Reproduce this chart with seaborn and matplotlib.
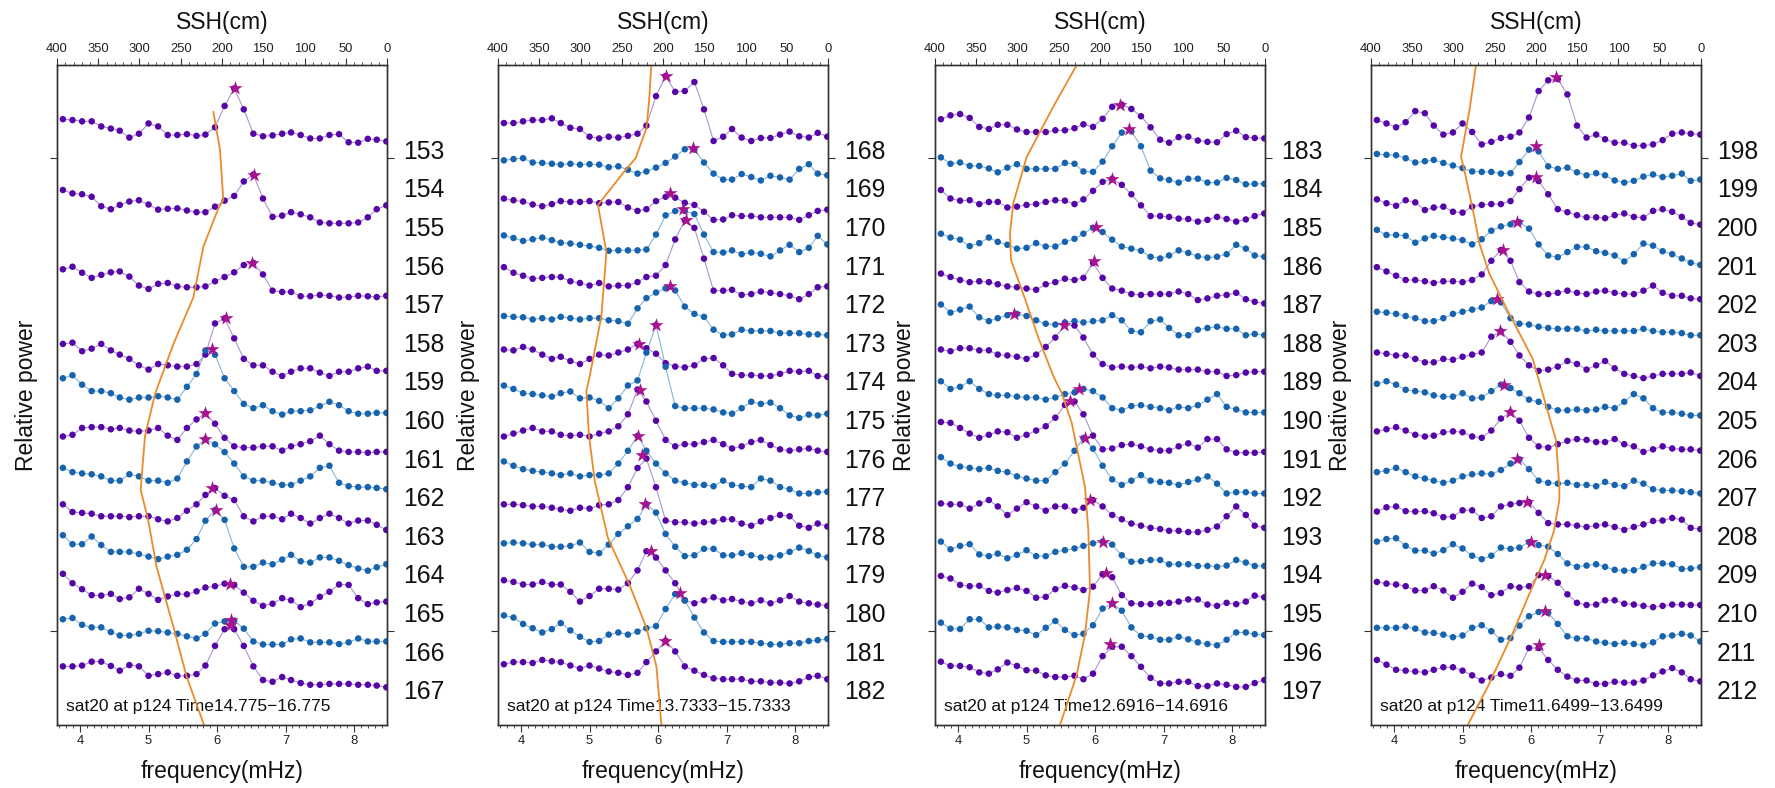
import numpy as np
import pandas as pd
import matplotlib
matplotlib.use("Agg")
import matplotlib.pyplot as plt
import seaborn as sns
from matplotlib.ticker import MultipleLocator, NullLocator
from matplotlib.transforms import blended_transform_factory

sns.set_theme(style="ticks")
plt.rcParams['font.family'] = ['Liberation Sans', 'DejaVu Sans']

# ---------------- data ----------------
freq_mhz = [3.75, 3.89, 4.03, 4.17, 4.31, 4.45, 4.58, 4.72, 4.86, 5.00, 5.14, 5.28,
            5.42, 5.56, 5.70, 5.83, 5.97, 6.11, 6.25, 6.39, 6.53, 6.67, 6.81, 6.95,
            7.08, 7.22, 7.36, 7.50, 7.64, 7.78, 7.92, 8.06, 8.20, 8.33, 8.47]

# panel 1 (rows 153-167; 154, 156, 158 missing)
pw_153 = [71,69,66,66,54,49,44,28,37,61,54,34,34,36,32,35,52,102,143,94,37,31,33,37,40,34,26,26,34,36,17,16,25,23,19]
pw_155 = [86,78,76,70,48,41,51,59,62,52,40,42,43,38,34,34,47,61,72,106,122,66,23,26,34,29,22,10,8,8,8,10,22,41,50]
pw_157 = [81,87,73,61,68,74,76,64,43,35,47,49,41,39,39,41,53,63,74,91,96,69,31,28,28,18,18,21,19,15,16,19,18,16,19]
pw_159 = [87,90,70,76,87,72,62,52,37,27,40,37,34,34,40,62,135,147,100,52,37,37,22,12,22,30,30,20,12,22,22,30,34,24,24]
pw_160 = [97,104,82,67,67,62,52,47,52,52,55,52,47,77,107,162,152,97,67,37,27,34,20,12,20,20,22,32,42,34,20,14,14,16,16]
pw_161 = [51,55,71,73,73,68,71,65,63,65,71,53,43,71,91,105,81,48,28,25,25,28,28,18,28,33,40,53,33,18,15,15,13,15,15]
pw_162 = [68,58,55,53,48,38,38,53,48,38,38,33,43,83,118,135,123,105,78,48,38,38,33,28,28,38,48,68,73,33,25,23,23,21,18]
pw_163 = [73,55,53,51,45,45,45,43,45,45,38,33,41,58,73,95,111,93,83,45,33,45,45,38,51,41,28,41,51,41,28,35,35,25,13]
pw_164 = [91,70,70,88,68,52,52,52,47,41,35,41,45,57,82,125,150,127,60,17,17,27,23,34,45,30,27,39,39,31,21,13,8,16,23]
pw_165 = [91,69,55,41,40,44,32,36,56,44,30,38,44,43,50,59,62,68,65,47,28,16,21,34,29,13,22,37,49,66,65,34,20,24,26]
pw_166 = [75,78,62,56,56,45,37,37,41,48,47,44,41,35,30,41,65,70,72,53,23,16,16,16,28,30,21,21,21,17,21,30,23,23,23]
pw_167 = [55,55,57,66,66,56,45,58,55,33,37,41,33,33,37,57,103,142,142,103,55,23,19,30,23,16,12,12,14,14,14,12,12,10,6]
p1_labels = [153, 155, 157, 159, 160, 161, 162, 163, 164, 165, 166, 167]
p1_star_freq = [6.26, 6.54, 6.51, 6.13, 5.92, 5.82, 5.82, 5.93, 5.98, 6.19, 6.20, 6.19]
p1_star_power = [143, 122, 96, 147, 165, 105, 135, 111, 150, 68, 74, 152]
p1_ssh_row = [-0.98, 0.01, 1.31, 1.52, 2.52, 3.83, 5.04, 6.32, 7.42, 8.81, 9.6, 10.81, 11.28, 12.36, 13.66, 14.91]
p1_ssh_cm = [210.5, 202.4, 198.4, 204.4, 222.6, 234.7, 258.9, 281, 293.3, 298.6, 289.5, 279.3, 273.2, 259, 242.8, 221.8]
p1_title = "sat20 at p124 Time14.775\u221216.775"

# panel 2 (rows 168-182)
pw_168 = [62,62,66,69,69,73,62,51,48,30,26,30,28,32,37,56,125,172,135,137,158,94,20,30,48,28,20,27,27,35,42,31,28,39,30]
pw_169 = [65,68,70,60,59,57,55,57,55,56,55,49,51,43,34,39,48,59,74,91,90,60,34,20,20,33,26,18,29,25,20,45,56,34,30]
pw_170 = [66,62,59,52,48,53,60,58,58,60,55,57,58,45,37,41,60,70,68,56,51,35,16,17,27,25,25,22,22,22,22,16,27,37,40]
pw_171 = [70,64,57,61,65,59,53,51,48,45,41,34,35,35,35,37,72,117,127,127,120,72,31,30,35,26,30,27,21,35,48,31,41,69,49]
pw_172 = [86,73,66,59,61,63,63,53,49,43,49,41,43,43,51,63,66,91,151,196,178,106,31,31,33,21,23,29,26,23,19,11,23,39,41]
pw_173 = [62,60,59,54,57,54,60,57,54,57,57,52,50,44,80,104,117,127,122,84,67,60,30,17,19,30,27,27,27,22,22,22,19,19,17]
pw_174 = [74,72,80,74,62,52,57,47,40,52,62,60,67,74,87,77,64,42,34,32,37,52,54,37,17,14,14,12,12,17,24,22,24,12,10]
pw_175 = [80,72,62,60,57,54,62,66,50,52,44,27,50,80,92,157,222,124,32,27,27,27,24,17,14,27,42,37,40,27,10,4,12,10,14]
pw_176 = [51,58,65,71,63,63,55,53,55,51,58,63,75,103,161,133,88,43,28,33,33,38,43,33,23,28,38,43,31,21,18,21,23,18,15]
pw_177 = [83,73,65,61,58,55,51,55,48,51,51,55,78,108,143,108,78,55,38,33,28,28,25,38,28,25,23,43,38,23,18,8,8,11,12]
pw_178 = [73,73,71,68,68,65,61,58,65,63,71,73,83,113,158,180,113,35,31,31,28,31,33,38,38,28,23,33,41,48,45,23,18,28,21]
pw_179 = [72,74,72,69,69,64,64,66,74,52,49,69,94,112,129,164,144,94,64,42,44,59,59,44,44,49,44,39,39,44,52,62,54,44,39]
pw_180 = [76,72,66,66,72,66,66,49,26,39,56,56,54,69,99,144,129,99,69,29,22,29,36,29,32,26,22,29,22,29,39,26,22,19,16]
pw_181 = [84,79,64,54,44,52,66,49,34,22,24,39,44,39,46,54,59,99,134,119,79,44,24,22,22,22,22,19,16,16,19,19,24,26,29]
pw_182 = [60,65,65,63,70,67,65,57,50,57,50,43,40,35,40,65,90,115,90,55,45,35,27,25,25,25,20,20,17,17,15,20,30,33,25]
p2_labels = list(range(168, 183))
p2_star_freq = [6.12, 6.51, 6.18, 6.36, 6.41, 6.17, 5.72, 5.97, 5.74, 5.71, 5.77, 5.81, 5.90, 6.32, 6.10]
p2_star_power = [172, 94, 78, 131, 196, 132, 87, 222, 161, 143, 188, 164, 144, 136, 115]
p2_ssh_row = [-2.19, -1.22, -0.55, 0.22, 0.61, 1.44, 2.66, 4.32, 5.87, 6.25, 7.41, 8.58, 10.07, 11.29, 12.39, 13.39, 14.91]
p2_ssh_cm = [214.1, 217, 220.1, 233.1, 248.5, 278.8, 268.6, 274.7, 288.8, 292.9, 289.7, 282.8, 266.7, 240.4, 220.1, 208, 201.9]
p2_title = "sat20 at p124 Time13.7333\u221215.7333"

# panel 3 (rows 183-197)
pw_183 = [71,80,83,74,53,48,58,58,47,41,41,41,45,45,50,59,53,72,100,105,95,78,52,23,16,29,30,21,18,17,36,44,29,27,26]
pw_184 = [72,57,60,52,52,46,37,48,56,45,45,45,45,59,57,39,38,62,98,130,133,98,41,23,19,13,22,22,13,13,24,19,9,10,10]
pw_185 = [86,66,61,62,53,58,58,45,47,51,53,58,62,61,53,64,84,105,112,98,76,50,25,25,23,19,18,12,16,23,18,12,17,25,31]
pw_186 = [74,65,60,45,52,65,55,48,39,41,52,44,44,55,62,74,88,78,60,44,39,34,20,16,23,35,29,21,18,20,26,48,39,23,20]
pw_187 = [71,63,56,51,53,51,46,41,39,36,33,46,51,59,56,61,96,61,36,31,23,21,23,23,23,29,23,9,13,19,21,26,11,5,1]
pw_188 = [89,70,77,84,59,50,57,64,67,62,52,44,42,47,50,47,50,52,64,52,27,24,50,54,34,17,17,30,34,37,32,32,17,20,17]
pw_189 = [74,70,77,77,72,72,62,60,57,52,62,80,102,132,130,102,62,40,32,34,32,34,30,34,32,27,27,27,22,22,12,14,20,22,22]
pw_190 = [90,72,77,90,72,60,57,57,54,52,52,47,52,60,64,72,67,52,27,22,32,34,30,27,22,30,27,34,47,60,30,24,17,17,17]
pw_191 = [85,83,71,58,48,55,63,61,48,55,65,75,95,125,133,103,53,21,23,31,33,28,21,18,18,28,35,25,45,45,21,13,13,13,15]
pw_192 = [93,78,71,68,65,68,61,58,48,43,38,38,58,78,108,138,113,73,41,28,38,51,38,35,33,28,35,41,48,31,8,11,11,8,8]
pw_193 = [75,73,73,63,75,83,68,48,63,78,68,58,68,68,58,65,83,68,48,38,28,23,18,15,11,11,8,8,13,21,45,68,48,23,18]
pw_194 = [76,58,66,70,46,42,48,37,45,56,42,42,52,56,60,66,72,76,69,44,29,30,33,33,23,23,23,19,19,17,20,33,27,19,19]
pw_195 = [86,80,65,62,63,51,47,53,58,51,35,37,55,63,59,53,61,90,83,41,22,20,20,22,23,26,31,31,19,16,23,20,26,40,36]
pw_196 = [67,53,52,75,75,56,58,56,50,48,38,55,71,50,38,41,61,100,112,95,56,36,34,27,27,34,28,21,17,14,27,44,44,40,38]
pw_197 = [66,56,56,53,41,38,48,64,56,46,45,34,30,30,33,25,38,79,101,101,79,54,28,15,15,19,19,9,9,15,12,7,7,16,23]
p3_labels = list(range(183, 198))
p3_star_freq = [6.37, 6.49, 6.24, 6.02, 5.98, 4.81, 5.54, 5.77, 5.63, 5.85, 5.93, 6.11, 6.16, 6.25, 6.22]
p3_star_power = [105, 138, 112, 90, 101, 67, 132, 72, 133, 138, 83, 76, 94, 112, 107]
p3_ssh_row = [-2.19, -1.11, 0.19, 1.39, 2.17, 2.86, 3.87, 4.87, 5.87, 6.31, 7.08, 8.74, 9.85, 11.4, 12.56, 13.61, 14.91]
p3_ssh_cm = [228.2, 256.6, 288.8, 305.1, 309.1, 307.9, 290.9, 274.8, 256.6, 246.4, 234.3, 218.2, 214.2, 212.1, 218.2, 228.2, 248.5]
p3_title = "sat20 at p124 Time12.6916\u221214.6916"

# panel 4 (rows 198-212)
pw_198 = [69,61,52,64,90,85,56,35,40,61,41,12,18,27,30,40,75,137,162,165,129,56,28,35,24,16,16,9,9,12,22,37,40,37,35]
pw_199 = [80,78,77,70,60,63,66,59,53,47,39,38,38,34,35,61,90,86,51,45,48,37,30,35,30,18,13,17,27,32,26,29,34,17,20]
pw_200 = [64,55,49,62,57,39,45,47,35,33,47,51,53,53,60,88,115,107,76,41,34,27,22,22,20,27,31,23,21,37,41,35,23,9,5]
pw_201 = [83,71,71,69,53,63,69,66,63,59,49,61,81,91,96,101,86,49,23,19,31,43,43,33,29,23,9,26,51,46,33,26,16,6,1]
pw_202 = [86,76,66,56,56,53,49,53,53,51,56,69,101,126,101,51,29,23,23,26,31,26,23,29,31,26,23,23,31,43,26,19,19,13,11]
pw_203 = [72,70,67,62,57,50,50,57,67,72,77,82,97,94,57,44,42,37,34,32,32,32,27,30,27,27,27,27,32,27,24,24,22,17,17]
pw_204 = [67,64,60,60,52,44,44,52,50,57,62,67,104,117,92,60,37,24,27,34,47,40,27,37,47,30,17,12,7,12,17,17,17,20,12]
pw_205 = [84,90,82,70,67,64,57,54,54,62,50,52,67,82,74,62,47,42,30,22,22,24,22,24,30,27,42,60,50,27,17,17,14,10,10]
pw_206 = [63,68,73,65,55,51,53,61,63,61,51,48,65,93,108,88,48,28,25,33,41,45,43,38,38,45,33,28,15,21,28,23,21,21,18]
pw_207 = [58,61,68,58,48,43,38,33,38,48,53,55,53,63,78,88,65,38,33,31,33,28,28,25,35,28,25,38,31,18,15,15,13,11,8]
pw_208 = [56,66,68,57,56,57,52,43,44,59,59,41,45,68,73,76,78,53,29,26,26,23,20,23,26,20,13,20,26,34,35,41,37,18,15]
pw_209 = [76,82,84,66,55,55,48,56,70,60,43,35,43,62,59,62,75,68,64,47,25,17,20,23,17,10,8,9,17,25,25,23,12,13,16]
pw_210 = [72,68,66,62,52,52,62,52,35,49,68,60,41,46,62,59,62,88,86,70,43,23,18,19,29,29,21,19,16,13,16,19,19,18,18]
pw_211 = [55,55,55,58,53,44,43,39,33,37,55,61,47,27,31,60,82,92,90,64,35,30,30,23,20,17,20,17,14,21,35,37,41,37,23]
pw_212 = [70,59,47,45,43,41,47,53,53,45,34,22,29,37,33,52,98,98,70,47,31,22,22,14,14,19,17,17,22,34,43,51,41,25,20]
p4_labels = list(range(198, 213))
p4_star_freq = [6.37, 6.07, 6.07, 5.80, 5.59, 5.51, 5.55, 5.61, 5.69, 5.80, 5.94, 6.00, 6.20, 6.20, 6.11]
p4_star_power = [170, 98, 117, 101, 126, 102, 117, 82, 108, 88, 78, 75, 88, 95, 104]
p4_ssh_row = [-2.19, -1.0, 0.19, 0.53, 1.74, 2.43, 3.21, 4.09, 5.42, 7.53, 8.74, 9.08, 9.9, 10.63, 11.41, 12.53, 13.92, 14.91]
p4_ssh_cm = [272.7, 280.8, 290.9, 286.9, 274.8, 268.7, 256.6, 236.4, 204, 175.8, 171.7, 171.7, 178.5, 189.9, 206, 228.2, 258.5, 282.8]
p4_title = "sat20 at p124 Time11.6499\u221213.6499"

# ---------------- style ----------------
PURPLE_DOT, BLUE_DOT = "#5606a6", "#1763ae"
PURPLE_LINE, BLUE_LINE = "#ac92d6", "#86b5d8"
STAR = "#a8128f"
ORANGE = "#eb8a2a"
SCALE = 90.36           # power units per row spacing
W, H = 1775, 788

series = {lab: globals()["pw_%d" % lab] for lab in range(153, 213) if ("pw_%d" % lab) in globals()}
panels = [
    dict(first=153, labels=p1_labels, sf=p1_star_freq, sp=p1_star_power, sr=p1_ssh_row, sc=p1_ssh_cm, title=p1_title, left=57),
    dict(first=168, labels=p2_labels, sf=p2_star_freq, sp=p2_star_power, sr=p2_ssh_row, sc=p2_ssh_cm, title=p2_title, left=498),
    dict(first=183, labels=p3_labels, sf=p3_star_freq, sp=p3_star_power, sr=p3_ssh_row, sc=p3_ssh_cm, title=p3_title, left=935),
    dict(first=198, labels=p4_labels, sf=p4_star_freq, sp=p4_star_power, sr=p4_ssh_row, sc=p4_ssh_cm, title=p4_title, left=1371),
]

fig = plt.figure(figsize=(W / 100, H / 100), dpi=100)
TOP, BOT, PW = 65, 725, 330

for P in panels:
    first = P["first"]
    ax = fig.add_axes([P["left"] / W, 1 - BOT / H, PW / W, (BOT - TOP) / H])
    recs = []
    for lab in P["labels"]:
        k = lab - first
        for f, v in zip(freq_mhz, series[lab]):
            recs.append((lab, f, k - v / SCALE))
    df = pd.DataFrame(recs, columns=["label", "freq", "y"])
    pal_line = {lab: (PURPLE_LINE if (lab - first) % 2 == 0 else BLUE_LINE) for lab in P["labels"]}
    pal_dot = {lab: (PURPLE_DOT if (lab - first) % 2 == 0 else BLUE_DOT) for lab in P["labels"]}
    sns.lineplot(data=df, x="freq", y="y", hue="label", palette=pal_line, estimator=None,
                 sort=False, legend=False, linewidth=0.8, ax=ax)
    sns.scatterplot(data=df, x="freq", y="y", hue="label", palette=pal_dot, s=22,
                    linewidth=0, legend=False, ax=ax, zorder=3)
    sdf = pd.DataFrame({"freq": P["sf"],
                        "y": [lab - first - p / SCALE for lab, p in zip(P["labels"], P["sp"])]})
    sns.scatterplot(data=sdf, x="freq", y="y", marker="*", color=STAR, s=115,
                    linewidth=0, legend=False, ax=ax, zorder=4)

    ax2 = ax.twiny()
    sns.lineplot(x=P["sc"], y=P["sr"], sort=False, estimator=None, color=ORANGE,
                 linewidth=1.3, ax=ax2)
    ax2.set_xlim(400, 0)
    ax.set_xlim(3.664, 8.48)
    ax.set_ylim(14.91, -2.19)

    for a in (ax, ax2):
        a.set_xlabel("")
        a.set_ylabel("")
        for s in a.spines.values():
            s.set_color("#333333")
            s.set_linewidth(1.0)

    ax.set_xticks([4, 5, 6, 7, 8])
    ax.xaxis.set_minor_locator(MultipleLocator(0.1))
    ax.tick_params(axis="x", which="major", length=5, width=0.8, labelsize=9.4, pad=2.5,
                   colors="#333333", labelcolor="#222222", direction="out")
    ax.tick_params(axis="x", which="minor", length=2.5, width=0.6, colors="#333333", direction="out")
    ax.set_yticks([0.22, 12.47])
    ax.yaxis.set_minor_locator(NullLocator())
    ax.tick_params(axis="y", left=True, right=True, labelleft=False, labelright=False,
                   length=5, width=0.8, colors="#333333", direction="out")

    ax2.set_xticks(list(range(0, 401, 50)))
    ax2.xaxis.set_minor_locator(MultipleLocator(10))
    ax2.tick_params(axis="x", which="major", length=5, width=0.8, labelsize=9.4, pad=2.5,
                    colors="#333333", labelcolor="#222222", direction="out")
    ax2.tick_params(axis="x", which="minor", length=2.5, width=0.6, colors="#333333", direction="out")

    tr = blended_transform_factory(ax.transAxes, ax.transData)
    for k in range(15):
        ax.text(1 + 16 / PW, k + 0.06, str(first + k), transform=tr, ha="left", va="center",
                fontsize=17.8, color="#111111")
    ax.text(8.7 / PW, (BOT - 706) / (BOT - TOP), P["title"], transform=ax.transAxes,
            ha="left", va="center", fontsize=12.5, color="#111111")

    cx = (P["left"] + PW / 2) / W
    fig.text(cx, 1 - 23 / H, "SSH(cm)", ha="center", va="center", fontsize=16.5, color="#111111")
    fig.text(cx, 1 - 771.7 / H, "frequency(mHz)", ha="center", va="center", fontsize=16.5, color="#111111")
    fig.text((P["left"] - 30) / W, 1 - 395 / H, "Relative power", rotation=90,
             ha="center", va="center", fontsize=16.5, color="#111111")

fig.savefig("out.png", dpi=100)
